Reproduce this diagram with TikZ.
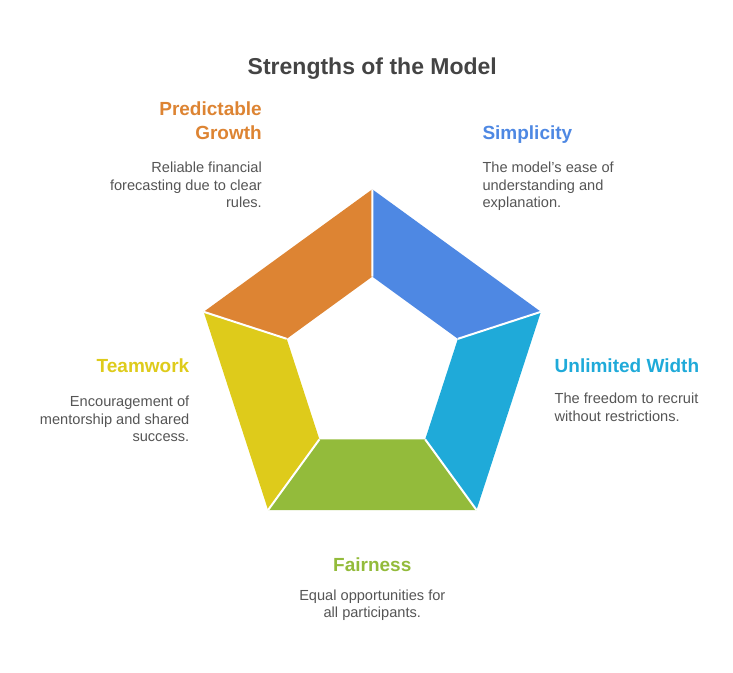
\documentclass[tikz,border=0pt]{standalone}
\usepackage{fontspec}
\setmainfont{Liberation Sans}
\definecolor{cOrange}{HTML}{DD8433}
\definecolor{cBlue}{HTML}{4E88E3}
\definecolor{cCyan}{HTML}{1FAAD9}
\definecolor{cGreen}{HTML}{93BB3B}
\definecolor{cYellow}{HTML}{DECB1B}
\definecolor{cText}{HTML}{555555}
\definecolor{cTitle}{HTML}{444444}
\begin{document}
\begin{tikzpicture}[x=1pt,y=-1pt,
  seg/.style={draw=white,line width=2pt,line join=round},
  ttl/.style={inner sep=0pt,text=cTitle,font=\fontsize{23}{27}\selectfont\bfseries},
  lbl/.style={inner sep=0pt,font=\fontsize{19}{24.3}\selectfont\bfseries},
  body/.style={inner sep=0pt,text=cText,font=\fontsize{14.6}{17.4}\selectfont}]
\useasboundingbox (0,0) rectangle (733,672);
% outer vertices
\coordinate (OT) at (372.3,189.3);
\coordinate (OR) at (540.9,311.8);
\coordinate (OBR) at (476.5,510.0);
\coordinate (OBL) at (268.1,510.0);
\coordinate (OL) at (203.7,311.8);
% inner vertices
\coordinate (IT) at (372.3,276.6);
\coordinate (IR) at (457.9,338.8);
\coordinate (IBR) at (425.2,439.4);
\coordinate (IBL) at (319.4,439.4);
\coordinate (IL) at (286.7,338.8);
\fill[cBlue] (OT) -- (OR) -- (IR) -- (IT) -- cycle;
\fill[cCyan] (OR) -- (OBR) -- (IBR) -- (IR) -- cycle;
\fill[cGreen] (OBR) -- (OBL) -- (IBL) -- (IBR) -- cycle;
\fill[cYellow] (OBL) -- (OL) -- (IL) -- (IBL) -- cycle;
\fill[cOrange] (OL) -- (OT) -- (IT) -- (IL) -- cycle;
\draw[seg] (OT) -- (IT) (OR) -- (IR) (OBR) -- (IBR) (OBL) -- (IBL) (OL) -- (IL);
% title
\node[ttl,anchor=base] (title) at (372.3,74) {Strengths of the Model};
% Predictable Growth (multi-line nodes: base = last line)
\node[lbl,text=cOrange,align=right,anchor=base east] (pgT) at (262,139.3) {Predictable\\Growth};
\node[body,align=right,anchor=base east] (pgB) at (262,207.5) {Reliable financial\\forecasting due to clear\\rules.};
% Simplicity
\node[lbl,text=cBlue,anchor=base west] (siT) at (482.3,139) {Simplicity};
\node[body,align=left,anchor=base west] (siB) at (482.3,207.7) {The model's ease of\\understanding and\\explanation.};
% Unlimited Width
\node[lbl,text=cCyan,anchor=base west] (uwT) at (554.5,372.7) {Unlimited Width};
\node[body,align=left,anchor=base west] (uwB) at (554.5,421) {The freedom to recruit\\without restrictions.};
% Teamwork
\node[lbl,text=cYellow,anchor=base east] (twT) at (189.5,372.7) {Teamwork};
\node[body,align=right,anchor=base east] (twB) at (189.5,441.7) {Encouragement of\\mentorship and shared\\success.};
% Fairness
\node[lbl,text=cGreen,anchor=base] (faT) at (372.3,571.7) {Fairness};
\node[body,align=center,anchor=base] (faB) at (372.3,617.7) {Equal opportunities for\\all participants.};
\end{tikzpicture}
\end{document}
